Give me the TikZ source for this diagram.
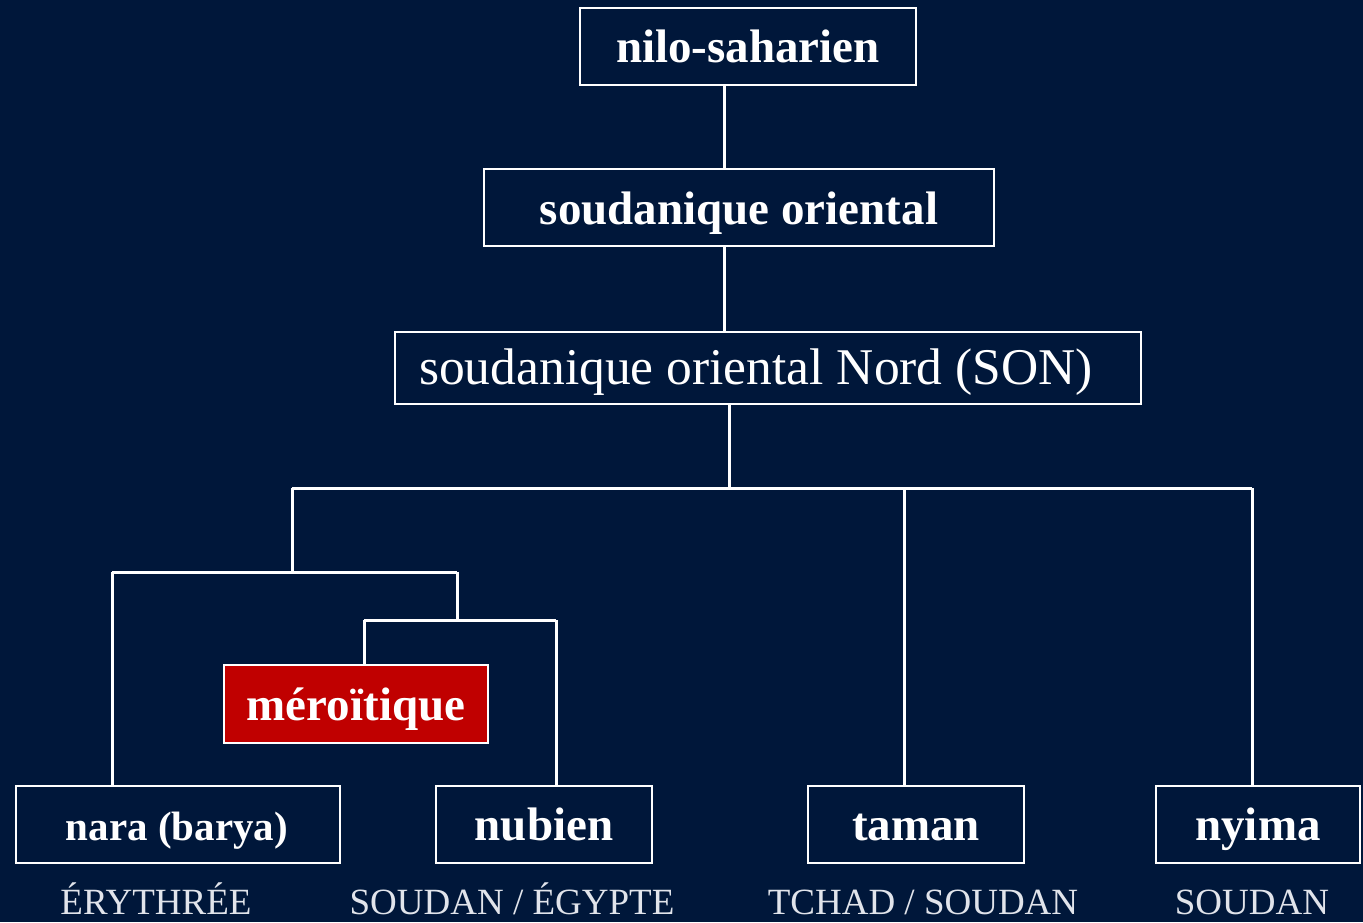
\documentclass[tikz,border=0pt]{standalone}
\usepackage{fontspec}
\setmainfont{Liberation Serif}
\definecolor{navy}{RGB}{0,23,58}
\definecolor{merred}{RGB}{192,0,0}
\definecolor{country}{RGB}{225,228,235}
\begin{document}
\begin{tikzpicture}[x=1pt,y=-1pt,
  box/.style={draw=white,line width=1.6pt,inner sep=0pt},
  lbl/.style={text=white,inner sep=0pt,anchor=base,
    font=\bfseries\fontsize{47}{50}\selectfont},
  link/.style={draw=white,line width=3pt},
  place/.style={text=country,inner sep=0pt,anchor=base,font=\fontsize{37}{40}\selectfont}]
\fill[navy] (0,0) rectangle (1363,922);
\useasboundingbox (0,0) rectangle (1363,922);

% framed boxes (sizes in px)
\node[box,minimum width=336pt,minimum height=77pt] (nilo) at (748,46.5) {};
\node[box,minimum width=510pt,minimum height=77pt] (soud) at (739,207.5) {};
\node[box,minimum width=746pt,minimum height=72pt] (son) at (768,368) {};
\node[box,fill=merred,minimum width=264pt,minimum height=78pt] (mero) at (356,704) {};
\node[box,minimum width=324pt,minimum height=77pt] (nara) at (178,824.5) {};
\node[box,minimum width=216pt,minimum height=77pt] (nubien) at (544,824.5) {};
\node[box,minimum width=216pt,minimum height=77pt] (taman) at (916,824.5) {};
\node[box,minimum width=204pt,minimum height=77pt] (nyima) at (1258,824.5) {};

% box texts on their baselines
\node[lbl] (tnilo) at (748,62) {nilo-saharien};
\node[lbl] (tsoud) at (739,224) {soudanique oriental};
\node[lbl,font=\fontsize{51.5}{55}\selectfont] (tson) at (756,384) {soudanique oriental Nord (SON)};
\node[lbl] (tmero) at (356,720) {méroïtique};
\node[lbl,font=\bfseries\fontsize{41}{44}\selectfont] (tnara) at (177,840) {nara (barya)};
\node[lbl] (tnubien) at (544,840) {nubien};
\node[lbl] (ttaman) at (916,840) {taman};
\node[lbl] (tnyima) at (1258,840) {nyima};

% country labels
\node[place] (l1) at (156,914) {ÉRYTHRÉE};
\node[place] (l2) at (512,914) {SOUDAN / ÉGYPTE};
\node[place] (l3) at (923,914) {TCHAD / SOUDAN};
\node[place] (l4) at (1252,914) {SOUDAN};

% tree junctions
\coordinate (j0) at (729,488);
\coordinate (jl) at (292,488);
\coordinate (jm) at (904,488);
\coordinate (jr) at (1252,488);
\coordinate (k0) at (292,572);
\coordinate (kl) at (112,572);
\coordinate (kr) at (457,572);
\coordinate (m0) at (457,620);
\coordinate (ml) at (364,620);
\coordinate (mr) at (556,620);
\coordinate (a1) at (724,0);

\draw[link] (nilo.south -| a1) -- (soud.north -| a1);
\draw[link] (soud.south -| a1) -- (son.north -| a1);
\draw[link] (son.south -| j0) -- (j0);
\draw[link] (jl) -- (jr);
\draw[link] (jl) -- (k0);
\draw[link] (jm) -- (taman.north -| jm);
\draw[link] (jr) -- (nyima.north -| jr);
\draw[link] (kl) -- (kr);
\draw[link] (kl) -- (nara.north -| kl);
\draw[link] (kr) -- (m0);
\draw[link] (ml) -- (mr);
\draw[link] (ml) -- (mero.north -| ml);
\draw[link] (mr) -- (nubien.north -| mr);
\end{tikzpicture}
\end{document}
